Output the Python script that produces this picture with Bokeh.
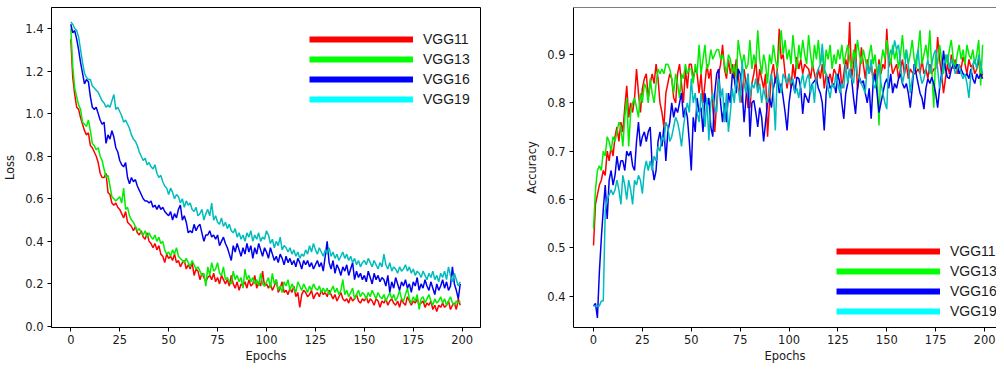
from bokeh.plotting import figure
from bokeh.layouts import row
from bokeh.models import Range1d, FixedTicker, PrintfTickFormatter, Legend, LegendItem, Span
from bokeh.embed import file_html
from bokeh.resources import INLINE

epochs = list(range(200))
series_names = ["VGG11", "VGG13", "VGG16", "VGG19"]
line_colors = ["#ff0000", "#00ee00", "#0000ee", "#00bcbc"]
legend_colors = ["#ff0000", "#00ff00", "#0000ff", "#00ffff"]
epoch_ticks = [0, 25, 50, 75, 100, 125, 150, 175, 200]
loss_ticks = [0.0, 0.2, 0.4, 0.6, 0.8, 1.0, 1.2, 1.4]
acc_ticks = [0.4, 0.5, 0.6, 0.7, 0.8, 0.9]

loss_vgg11 = [
    1.35, 1.17, 1.09, 1.03, 1.02, 0.98, 0.95, 0.92, 0.90, 0.91,
    0.85, 0.84, 0.82, 0.80, 0.77, 0.72, 0.70, 0.70, 0.72, 0.63,
    0.62, 0.58, 0.57, 0.58, 0.56, 0.55, 0.53, 0.51, 0.54, 0.49,
    0.48, 0.47, 0.45, 0.47, 0.44, 0.43, 0.45, 0.42, 0.41, 0.44,
    0.40, 0.39, 0.37, 0.39, 0.36, 0.38, 0.34, 0.33, 0.30, 0.34,
    0.32, 0.33, 0.31, 0.34, 0.30, 0.31, 0.28, 0.30, 0.31, 0.27,
    0.29, 0.27, 0.30, 0.24, 0.27, 0.26, 0.22, 0.25, 0.23, 0.21,
    0.23, 0.24, 0.22, 0.25, 0.21, 0.23, 0.20, 0.24, 0.22, 0.20,
    0.22, 0.19, 0.24, 0.20, 0.18, 0.21, 0.17, 0.20, 0.19, 0.21,
    0.18, 0.22, 0.19, 0.20, 0.24, 0.18, 0.21, 0.19, 0.26, 0.19,
    0.20, 0.18, 0.20, 0.17, 0.19, 0.22, 0.16, 0.18, 0.21, 0.16,
    0.17, 0.15, 0.18, 0.16, 0.19, 0.14, 0.16, 0.09, 0.15, 0.17,
    0.16, 0.14, 0.15, 0.17, 0.13, 0.15, 0.16, 0.14, 0.17, 0.15,
    0.16, 0.14, 0.17, 0.15, 0.13, 0.15, 0.12, 0.14, 0.16, 0.13,
    0.12, 0.13, 0.11, 0.14, 0.12, 0.13, 0.15, 0.12, 0.11, 0.13,
    0.12, 0.14, 0.11, 0.13, 0.12, 0.10, 0.13, 0.12, 0.09, 0.12,
    0.11, 0.13, 0.10, 0.12, 0.13, 0.11, 0.10, 0.12, 0.09, 0.13,
    0.11, 0.10, 0.14, 0.12, 0.10, 0.12, 0.11, 0.13, 0.10, 0.11,
    0.12, 0.09, 0.11, 0.10, 0.12, 0.08, 0.10, 0.07, 0.10, 0.09,
    0.11, 0.09, 0.10, 0.12, 0.08, 0.10, 0.11, 0.08, 0.13, 0.10,
]
loss_vgg13 = [
    1.40, 1.22, 1.12, 1.08, 1.04, 1.02, 0.96, 0.95, 0.94, 0.97,
    0.92, 0.86, 0.85, 0.83, 0.84, 0.80, 0.78, 0.74, 0.70, 0.71,
    0.66, 0.61, 0.60, 0.59, 0.60, 0.61, 0.58, 0.65, 0.55, 0.56,
    0.52, 0.50, 0.49, 0.47, 0.45, 0.46, 0.44, 0.43, 0.45, 0.42,
    0.44, 0.42, 0.41, 0.43, 0.40, 0.42, 0.39, 0.40, 0.36, 0.34,
    0.35, 0.33, 0.36, 0.34, 0.37, 0.33, 0.32, 0.31, 0.30, 0.32,
    0.30, 0.28, 0.31, 0.29, 0.27, 0.28, 0.26, 0.24, 0.25, 0.19,
    0.28, 0.24, 0.30, 0.26, 0.27, 0.30, 0.25, 0.24, 0.28, 0.22,
    0.23, 0.21, 0.20, 0.26, 0.22, 0.24, 0.21, 0.23, 0.18, 0.27,
    0.22, 0.24, 0.21, 0.23, 0.20, 0.22, 0.19, 0.25, 0.20, 0.19,
    0.21, 0.23, 0.18, 0.25, 0.20, 0.22, 0.17, 0.19, 0.16, 0.21,
    0.19, 0.22, 0.17, 0.20, 0.18, 0.16, 0.21, 0.19, 0.17, 0.20,
    0.18, 0.16, 0.19, 0.17, 0.20, 0.18, 0.17, 0.19, 0.16, 0.18,
    0.16, 0.18, 0.15, 0.17, 0.19, 0.16, 0.18, 0.15, 0.17, 0.22,
    0.15, 0.17, 0.14, 0.16, 0.18, 0.13, 0.15, 0.17, 0.14, 0.16,
    0.15, 0.13, 0.16, 0.14, 0.17, 0.15, 0.13, 0.16, 0.14, 0.13,
    0.15, 0.12, 0.14, 0.16, 0.13, 0.15, 0.12, 0.14, 0.17, 0.13,
    0.12, 0.15, 0.18, 0.13, 0.11, 0.14, 0.12, 0.15, 0.08, 0.13,
    0.14, 0.11, 0.13, 0.15, 0.12, 0.10, 0.13, 0.11, 0.12, 0.14,
    0.11, 0.13, 0.10, 0.12, 0.14, 0.11, 0.10, 0.12, 0.11, 0.12,
]
loss_vgg16 = [
    1.42, 1.38, 1.39, 1.35, 1.30, 1.24, 1.19, 1.14, 1.16, 1.15,
    1.08, 1.03, 1.02, 1.03, 1.00, 0.97, 0.95, 0.96, 0.86, 0.90,
    0.88, 0.92, 0.89, 0.84, 0.82, 0.78, 0.76, 0.75, 0.77, 0.70,
    0.67, 0.70, 0.68, 0.69, 0.66, 0.64, 0.62, 0.60, 0.59, 0.59,
    0.58, 0.59, 0.56, 0.57, 0.55, 0.57, 0.55, 0.56, 0.54, 0.53,
    0.52, 0.54, 0.50, 0.53, 0.51, 0.55, 0.57, 0.50, 0.52, 0.49,
    0.44, 0.45, 0.44, 0.48, 0.45, 0.47, 0.48, 0.44, 0.40, 0.43,
    0.43, 0.45, 0.42, 0.43, 0.41, 0.43, 0.38, 0.40, 0.42, 0.39,
    0.37, 0.34, 0.31, 0.38, 0.35, 0.39, 0.36, 0.33, 0.37, 0.34,
    0.39, 0.35, 0.38, 0.32, 0.37, 0.34, 0.39, 0.36, 0.33, 0.37,
    0.35, 0.32, 0.37, 0.34, 0.31, 0.33, 0.30, 0.34, 0.32, 0.29,
    0.33, 0.30, 0.32, 0.29, 0.31, 0.28, 0.32, 0.30, 0.27, 0.31,
    0.29, 0.31, 0.28, 0.30, 0.27, 0.29, 0.31, 0.28, 0.30, 0.26,
    0.33, 0.40, 0.30, 0.27, 0.31, 0.25, 0.29, 0.27, 0.24, 0.28,
    0.26, 0.29, 0.24, 0.27, 0.30, 0.22, 0.26, 0.23, 0.25, 0.22,
    0.24, 0.21, 0.26, 0.23, 0.20, 0.25, 0.22, 0.24, 0.21, 0.23,
    0.22, 0.19, 0.24, 0.16, 0.21, 0.18, 0.23, 0.20, 0.17, 0.21,
    0.19, 0.22, 0.18, 0.20, 0.16, 0.21, 0.19, 0.23, 0.17, 0.20,
    0.18, 0.22, 0.19, 0.17, 0.21, 0.18, 0.15, 0.20, 0.17, 0.19,
    0.22, 0.18, 0.21, 0.17, 0.19, 0.28, 0.20, 0.17, 0.13, 0.20,
]
loss_vgg19 = [
    1.43, 1.42, 1.40, 1.39, 1.36, 1.30, 1.24, 1.19, 1.17, 1.16,
    1.16, 1.13, 1.12, 1.11, 1.10, 1.08, 1.06, 1.05, 1.03, 1.04,
    1.03, 1.06, 1.09, 1.02, 1.03, 1.01, 0.99, 0.96, 0.97, 0.95,
    0.93, 0.90, 0.88, 0.87, 0.85, 0.82, 0.80, 0.78, 0.79, 0.76,
    0.77, 0.75, 0.74, 0.76, 0.72, 0.70, 0.71, 0.68, 0.66, 0.65,
    0.62, 0.65, 0.63, 0.60, 0.62, 0.61, 0.58, 0.60, 0.56, 0.59,
    0.57, 0.58, 0.55, 0.54, 0.56, 0.52, 0.53, 0.55, 0.50, 0.53,
    0.55, 0.52, 0.58, 0.50, 0.52, 0.49, 0.48, 0.51, 0.47, 0.49,
    0.46, 0.48, 0.45, 0.44, 0.46, 0.42, 0.44, 0.41, 0.43, 0.40,
    0.44, 0.42, 0.45, 0.40, 0.43, 0.41, 0.44, 0.40, 0.42, 0.41,
    0.45, 0.43, 0.39, 0.41, 0.37, 0.40, 0.38, 0.42, 0.36, 0.38,
    0.37, 0.35, 0.37, 0.34, 0.36, 0.33, 0.35, 0.32, 0.34, 0.33,
    0.36, 0.34, 0.38, 0.35, 0.39, 0.36, 0.34, 0.37, 0.35, 0.33,
    0.36, 0.34, 0.37, 0.33, 0.35, 0.32, 0.34, 0.31, 0.33, 0.35,
    0.32, 0.34, 0.31, 0.33, 0.30, 0.32, 0.29, 0.31, 0.28, 0.30,
    0.31, 0.29, 0.32, 0.30, 0.28, 0.31, 0.29, 0.27, 0.30, 0.28,
    0.34, 0.29, 0.27, 0.30, 0.26, 0.28, 0.27, 0.25, 0.28, 0.26,
    0.27, 0.29, 0.26, 0.28, 0.25, 0.27, 0.24, 0.26, 0.25, 0.23,
    0.26, 0.24, 0.22, 0.25, 0.23, 0.26, 0.22, 0.24, 0.21, 0.25,
    0.23, 0.26, 0.22, 0.28, 0.24, 0.21, 0.25, 0.22, 0.19, 0.21,
]

acc_vgg11 = [
    0.505, 0.59, 0.61, 0.63, 0.64, 0.66, 0.65, 0.70, 0.68, 0.71,
    0.69, 0.73, 0.75, 0.72, 0.76, 0.74, 0.79, 0.835, 0.77, 0.80,
    0.78, 0.81, 0.87, 0.82, 0.78, 0.83, 0.85, 0.86, 0.81, 0.84,
    0.86, 0.84, 0.88, 0.85, 0.80, 0.78, 0.75, 0.82, 0.84, 0.86,
    0.85, 0.81, 0.80, 0.86, 0.88, 0.84, 0.80, 0.87, 0.83, 0.88,
    0.88, 0.85, 0.87, 0.86, 0.82, 0.86, 0.80, 0.84, 0.88, 0.85,
    0.87, 0.79, 0.74, 0.80, 0.86, 0.88, 0.92, 0.87, 0.85, 0.89,
    0.86, 0.88, 0.85, 0.89, 0.86, 0.82, 0.80, 0.87, 0.84, 0.79,
    0.79, 0.84, 0.86, 0.89, 0.83, 0.87, 0.85, 0.83, 0.86, 0.73,
    0.80, 0.86, 0.88, 0.84, 0.87, 0.953, 0.89, 0.90, 0.86, 0.83,
    0.86, 0.83, 0.88, 0.85, 0.895, 0.87, 0.89, 0.86, 0.88, 0.874,
    0.87, 0.85, 0.88, 0.86, 0.84, 0.87, 0.85, 0.88, 0.83, 0.86,
    0.846, 0.86, 0.84, 0.87, 0.86, 0.85, 0.88, 0.83, 0.86, 0.89,
    0.87, 0.967, 0.85, 0.88, 0.922, 0.826, 0.86, 0.915, 0.88, 0.85,
    0.89, 0.86, 0.88, 0.85, 0.87, 0.84, 0.89, 0.86, 0.88, 0.87,
    0.953, 0.874, 0.89, 0.86, 0.87, 0.88, 0.85, 0.87, 0.89, 0.86,
    0.88, 0.85, 0.87, 0.863, 0.86, 0.863, 0.87, 0.86, 0.89, 0.86,
    0.87, 0.85, 0.88, 0.86, 0.87, 0.87, 0.936, 0.89, 0.86, 0.82,
    0.85, 0.88, 0.86, 0.90, 0.87, 0.89, 0.86, 0.88, 0.87, 0.895,
    0.88, 0.86, 0.89, 0.874, 0.88, 0.86, 0.87, 0.89, 0.85, 0.86,
]
acc_vgg13 = [
    0.54, 0.62, 0.66, 0.67, 0.66, 0.70, 0.69, 0.73, 0.72, 0.70,
    0.73, 0.72, 0.74, 0.76, 0.75, 0.71, 0.77, 0.81, 0.71, 0.78,
    0.80, 0.81, 0.79, 0.77, 0.82, 0.80, 0.84, 0.83, 0.80, 0.85,
    0.82, 0.80, 0.84, 0.87, 0.86, 0.87, 0.86, 0.88, 0.88, 0.87,
    0.85, 0.82, 0.86, 0.84, 0.81, 0.86, 0.85, 0.88, 0.86, 0.87,
    0.87, 0.84, 0.88, 0.86, 0.92, 0.86, 0.89, 0.92, 0.87, 0.88,
    0.91, 0.89, 0.90, 0.91, 0.91, 0.89, 0.90, 0.88, 0.86, 0.90,
    0.89, 0.86, 0.88, 0.85, 0.93, 0.90, 0.88, 0.90, 0.87, 0.88,
    0.93, 0.87, 0.90, 0.88, 0.95, 0.89, 0.86, 0.90, 0.88, 0.84,
    0.90, 0.88, 0.92, 0.89, 0.87, 0.91, 0.95, 0.90, 0.93, 0.89,
    0.91, 0.88, 0.94, 0.90, 0.87, 0.92, 0.89, 0.93, 0.90, 0.88,
    0.94, 0.90, 0.87, 0.92, 0.89, 0.93, 0.88, 0.90, 0.86, 0.91,
    0.89, 0.92, 0.87, 0.90, 0.88, 0.91, 0.89, 0.92, 0.88, 0.90,
    0.92, 0.89, 0.87, 0.91, 0.89, 0.93, 0.90, 0.88, 0.91, 0.89,
    0.87, 0.90, 0.92, 0.88, 0.90, 0.86, 0.753, 0.88, 0.91, 0.89,
    0.93, 0.90, 0.88, 0.92, 0.89, 0.91, 0.87, 0.90, 0.94, 0.89,
    0.91, 0.88, 0.90, 0.93, 0.89, 0.87, 0.91, 0.95, 0.88, 0.90,
    0.92, 0.89, 0.95, 0.87, 0.79, 0.90, 0.88, 0.92, 0.89, 0.86,
    0.90, 0.88, 0.91, 0.93, 0.89, 0.87, 0.90, 0.92, 0.89, 0.91,
    0.88, 0.92, 0.90, 0.89, 0.91, 0.88, 0.90, 0.93, 0.836, 0.92,
]
acc_vgg16 = [
    0.38, 0.385, 0.355, 0.45, 0.52, 0.58, 0.63, 0.56, 0.64, 0.66,
    0.63, 0.65, 0.69, 0.66, 0.68, 0.68, 0.66, 0.70, 0.69, 0.70,
    0.67, 0.66, 0.72, 0.76, 0.71, 0.73, 0.74, 0.72, 0.74, 0.75,
    0.67, 0.64, 0.66, 0.72, 0.74, 0.71, 0.75, 0.68, 0.74, 0.76,
    0.80, 0.77, 0.79, 0.78, 0.80, 0.82, 0.77, 0.79, 0.77, 0.72,
    0.66, 0.77, 0.74, 0.81, 0.78, 0.79, 0.74, 0.82, 0.79, 0.81,
    0.75, 0.73, 0.82, 0.86, 0.87, 0.80, 0.76, 0.80, 0.76, 0.82,
    0.80, 0.86, 0.85, 0.82, 0.87, 0.86, 0.83, 0.76, 0.81, 0.86,
    0.73, 0.80, 0.805, 0.78, 0.75, 0.79, 0.77, 0.72, 0.76, 0.80,
    0.81, 0.79, 0.83, 0.85, 0.853, 0.82, 0.84, 0.81, 0.78, 0.743,
    0.80, 0.83, 0.845, 0.82, 0.853, 0.85, 0.83, 0.777, 0.82, 0.81,
    0.80, 0.83, 0.84, 0.845, 0.85, 0.83, 0.82, 0.80, 0.743, 0.82,
    0.853, 0.83, 0.835, 0.84, 0.82, 0.86, 0.84, 0.80, 0.767, 0.82,
    0.84, 0.87, 0.85, 0.81, 0.777, 0.83, 0.853, 0.84, 0.846, 0.82,
    0.80, 0.83, 0.767, 0.84, 0.86, 0.82, 0.78, 0.80, 0.82, 0.84,
    0.85, 0.83, 0.86, 0.82, 0.84, 0.83, 0.85, 0.86, 0.84, 0.83,
    0.84, 0.82, 0.79, 0.83, 0.88, 0.86, 0.84, 0.82, 0.81, 0.787,
    0.83, 0.85, 0.84, 0.853, 0.84, 0.82, 0.79, 0.83, 0.86, 0.908,
    0.87, 0.853, 0.85, 0.87, 0.88, 0.87, 0.88, 0.86, 0.87, 0.86,
    0.855, 0.86, 0.85, 0.87, 0.85, 0.84, 0.86, 0.85, 0.86, 0.85,
]
acc_vgg19 = [
    0.38, 0.38, 0.38, 0.38, 0.39, 0.39, 0.577, 0.60, 0.61, 0.62,
    0.61, 0.62, 0.64, 0.62, 0.59, 0.65, 0.63, 0.60, 0.64, 0.62,
    0.59, 0.64, 0.63, 0.65, 0.64, 0.612, 0.66, 0.68, 0.66, 0.68,
    0.66, 0.69, 0.68, 0.71, 0.70, 0.73, 0.72, 0.76, 0.75, 0.72,
    0.73, 0.75, 0.77, 0.76, 0.74, 0.71, 0.75, 0.78, 0.80, 0.78,
    0.85, 0.80, 0.82, 0.78, 0.76, 0.82, 0.79, 0.75, 0.81, 0.722,
    0.80, 0.82, 0.79, 0.78, 0.85, 0.81, 0.83, 0.76, 0.82, 0.74,
    0.78, 0.83, 0.80, 0.85, 0.83, 0.80, 0.888, 0.84, 0.82, 0.86,
    0.81, 0.84, 0.83, 0.85, 0.82, 0.84, 0.80, 0.83, 0.81, 0.80,
    0.84, 0.86, 0.82, 0.743, 0.865, 0.84, 0.82, 0.86, 0.85, 0.84,
    0.86, 0.84, 0.85, 0.82, 0.83, 0.81, 0.84, 0.86, 0.83, 0.85,
    0.86, 0.82, 0.84, 0.80, 0.86, 0.87, 0.88, 0.922, 0.87, 0.86,
    0.83, 0.81, 0.84, 0.83, 0.86, 0.84, 0.82, 0.84, 0.83, 0.88,
    0.84, 0.87, 0.85, 0.84, 0.89, 0.86, 0.85, 0.84, 0.83, 0.82,
    0.88, 0.86, 0.89, 0.84, 0.83, 0.85, 0.88, 0.84, 0.82, 0.80,
    0.787, 0.89, 0.91, 0.90, 0.929, 0.91, 0.92, 0.88, 0.84, 0.86,
    0.91, 0.88, 0.82, 0.85, 0.87, 0.89, 0.91, 0.86, 0.84, 0.85,
    0.87, 0.89, 0.86, 0.88, 0.90, 0.91, 0.87, 0.83, 0.85, 0.88,
    0.89, 0.90, 0.87, 0.89, 0.88, 0.86, 0.87, 0.88, 0.86, 0.85,
    0.86, 0.84, 0.81, 0.86, 0.88, 0.89, 0.87, 0.90, 0.88, 0.86,
]

loss_series = [loss_vgg11, loss_vgg13, loss_vgg16, loss_vgg19]
acc_series = [acc_vgg11, acc_vgg13, acc_vgg16, acc_vgg19]

TICK_FONT = "DejaVu Sans"
TXT = "#1a1a1a"


def style_axes(p, yticks, ylabel):
    p.xgrid.visible = False
    p.ygrid.visible = False
    p.xaxis.ticker = FixedTicker(ticks=epoch_ticks)
    p.yaxis.ticker = FixedTicker(ticks=yticks)
    p.yaxis.formatter = PrintfTickFormatter(format="%.1f")
    p.xaxis.axis_label = "Epochs"
    p.yaxis.axis_label = ylabel
    for ax in (p.xaxis, p.yaxis):
        ax.axis_line_color = "black"
        ax.axis_line_width = 1
        ax.major_tick_line_color = "black"
        ax.major_tick_out = 4
        ax.major_tick_in = 0
        ax.minor_tick_out = 0
        ax.minor_tick_in = 0
        ax.major_label_text_font = TICK_FONT
        ax.major_label_text_font_size = "11.5px"
        ax.major_label_text_color = TXT
        ax.axis_label_text_font = TICK_FONT
        ax.axis_label_text_font_size = "11.5px"
        ax.axis_label_text_font_style = "normal"
        ax.axis_label_text_color = TXT
    p.xaxis.major_label_standoff = 3
    p.xaxis.axis_label_standoff = 2
    p.yaxis.major_label_standoff = 4
    p.yaxis.axis_label_standoff = 5


def add_series(p, series, loc):
    for ys, c in zip(series, line_colors):
        p.line(epochs, ys, line_color=c, line_width=1.5)
    items = []
    for name, ys, c in zip(series_names, series, legend_colors):
        # hidden copy of the series, used only to draw the thick legend swatch
        r = p.line(epochs, ys, line_color=c, line_width=6, visible=False)
        items.append(LegendItem(label=name, renderers=[r]))
    leg = Legend(items=items, location=loc, glyph_width=104, glyph_height=20,
                 label_height=20, label_standoff=10, spacing=0, padding=0, margin=0,
                 border_line_color=None, background_fill_alpha=0,
                 inactive_fill_alpha=0,
                 label_text_font="Liberation Sans", label_text_font_size="14px",
                 label_text_color=TXT)
    p.add_layout(leg, "center")


p1 = figure(frame_width=429, frame_height=320,
            x_range=Range1d(-9.86, 209.35), y_range=Range1d(-0.0047, 1.4986),
            output_backend="svg", toolbar_location=None,
            min_border_left=51, min_border_right=40, min_border_top=7, min_border_bottom=36)
p1.outline_line_color = "black"
p1.outline_line_width = 1
style_axes(p1, loss_ticks, "Loss")
add_series(p1, loss_series, (258, 218))

p2 = figure(frame_width=423, frame_height=320,
            x_range=Range1d(-10.23, 206.1), y_range=Range1d(0.3353, 0.9972),
            output_backend="svg", toolbar_location=None,
            min_border_left=53, min_border_right=0, min_border_top=7, min_border_bottom=36)
p2.outline_line_color = None
style_axes(p2, acc_ticks, "Accuracy")
p2.add_layout(Span(location=0.9972, dimension="width", line_color="black", line_width=1))
add_series(p2, acc_series, (263, 6))

layout = row(p1, p2)
open("out.html", "w").write(file_html(layout, INLINE))
